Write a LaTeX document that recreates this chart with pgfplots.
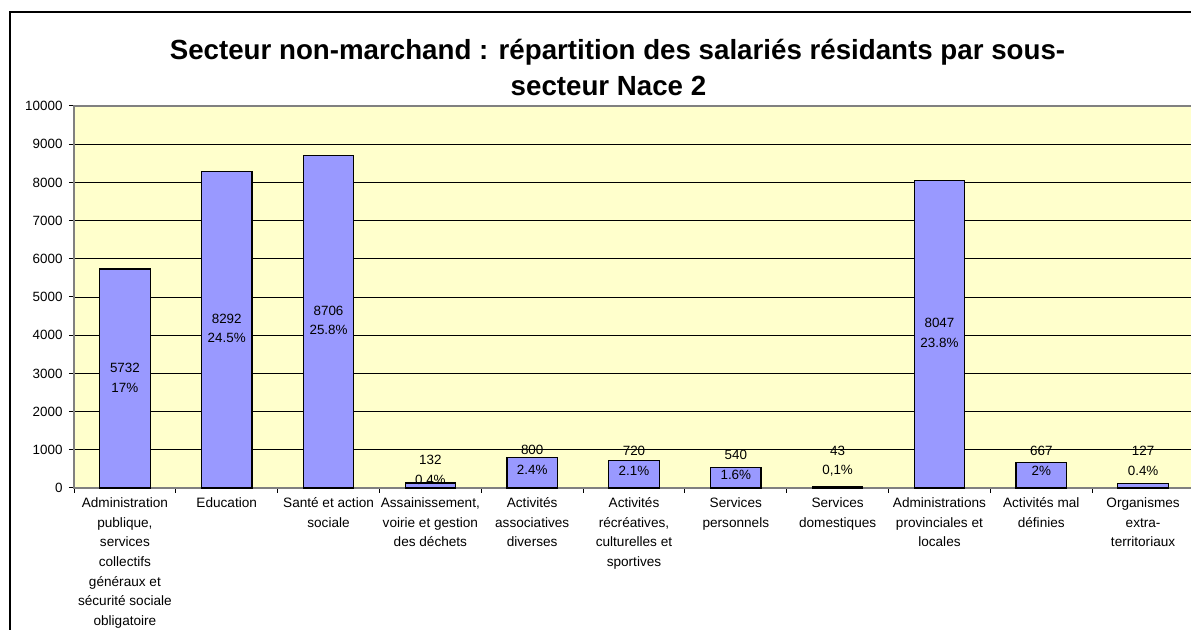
\documentclass[border=0pt]{standalone}
\usepackage{fontspec}
\setmainfont{Liberation Sans}
\usepackage{pgfplots}
\usepackage{pgfplotstable}
\pgfplotsset{compat=1.18}
\definecolor{barblue}{HTML}{9999FF}
\definecolor{bgyellow}{HTML}{FFFFCC}
\definecolor{frameg}{HTML}{808080}

\pgfplotstableread{
x y
0 5732
1 8292
2 8706
3 132
4 800
5 720
6 540
7 43
8 8047
9 667
10 127
}\datatable

\begin{document}
\begin{tikzpicture}[x=1bp,y=1bp]
\useasboundingbox (0,0) rectangle (1191,630);
\fill[white] (0,0) rectangle (1191,630);
\draw[black, line width=1.3bp] (10,-5) -- (10,618) -- (1200,618);
\node[anchor=base, font=\fontsize{27.7bp}{33bp}\selectfont\bfseries] at (617.5,570) {Secteur non-marchand : répartition des salariés résidants par sous-};
\node[anchor=base, font=\fontsize{27.7bp}{33bp}\selectfont\bfseries] at (608.5,534) {secteur Nace 2};
\begin{axis}[
  at={(74bp,142bp)}, anchor=south west,
  scale only axis, width=1120bp, height=382bp,
  xmin=-0.5, xmax=10.5, ymin=0, ymax=10000,
  axis background/.style={fill=bgyellow},
  axis line style={frameg, line width=1.2bp},
  ytick={0,1000,...,10000},
  ymajorgrids,
  grid style={black, line width=0.9bp},
  scaled ticks=false,
  /pgf/number format/assume math mode=true,
  /pgf/number format/set thousands separator={},
  tick align=outside,
  tick pos=left,
  major tick length=5bp,
  tick style={black, line width=1bp},
  yticklabel style={font=\fontsize{13.4bp}{16bp}\selectfont, xshift=-3bp},
  xtick={-0.5,0.5,...,10.5},
  xticklabels={},
  extra x ticks={0,1,2,3,4,5,6,7,8,9,10},
  extra x tick style={major tick length=0pt, grid=none,
     tick label style={align=center, anchor=north, yshift=-6bp,
       font=\fontsize{13.6bp}{19.7bp}\selectfont}},
  extra x tick labels={
    {Administration\\publique,\\services\\collectifs\\généraux et\\sécurité sociale\\obligatoire},
    {Education},
    {Santé et action\\sociale},
    {Assainissement,\\voirie et gestion\\des déchets},
    {Activités\\associatives\\diverses},
    {Activités\\récréatives,\\culturelles et\\sportives},
    {Services\\personnels},
    {Services\\domestiques},
    {Administrations\\provinciales et\\locales},
    {Activités mal\\définies},
    {Organismes\\extra-\\territoriaux}},
  clip=false,
]
\addplot[ybar, bar width=50.5bp, fill=barblue, draw=black, line width=1.2bp] table[x=x,y=y] {\datatable};
\addplot[draw=none, mark=none, nodes near coords, point meta=explicit symbolic,
  nodes near coords style={align=center, anchor=center, inner sep=0pt,
    font=\fontsize{13.4bp}{19.5bp}\selectfont}]
  coordinates {
  (0,2880) [{5732\\17\%}]
  (1,4180) [{8292\\24.5\%}]
  (2,4390) [{8706\\25.8\%}]
  (3,479) [{132\\0.4\%}]
  (4,733) [{800\\2.4\%}]
  (5,707) [{720\\2.1\%}]
  (6,602) [{540\\1.6\%}]
  (7,707) [{43\\0,1\%}]
  (8,4060) [{8047\\23.8\%}]
  (9,707) [{667\\2\%}]
  (10,707) [{127\\0.4\%}]
  };
\end{axis}
\end{tikzpicture}
\end{document}
